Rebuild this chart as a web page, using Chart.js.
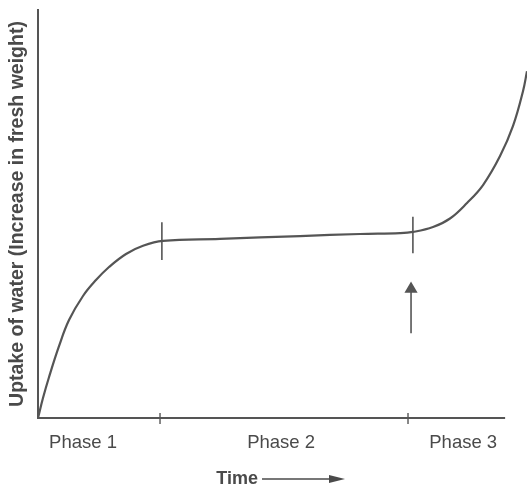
<!DOCTYPE html>
<html>
<head>
<meta charset="utf-8">
<script src="https://cdn.jsdelivr.net/npm/chart.js@4/dist/chart.umd.min.js"></script>
<style>
  body { margin: 0; background: #fff; }
  canvas { display: block; }
</style>
</head>
<body>
<canvas id="grafico" width="527" height="484"></canvas>
<script>
// curve (arbitrary units, time 0..105, uptake 0..100)
const curveTime   = [0, 1.07, 2.36, 4.51, 6.66, 9.66, 12.45, 15.25, 18.9, 22.55, 26.84, 39.08, 56.26, 69.14, 77.73, 80.52, 84.82, 88.47, 92.12, 95.56, 99.21, 102.0, 104.14, 105];
const curveUptake = [0, 4.9, 10.0, 17.6, 24.0, 29.9, 33.8, 37.0, 40.2, 42.2, 43.4, 43.9, 44.6, 45.1, 45.3, 45.6, 46.8, 48.9, 52.7, 57.1, 64.2, 71.6, 80.1, 85.0];

const axisEnd = 100.3;

const phaseLabels  = ["Phase 1", "Phase 2", "Phase 3"];
const phaseCenters = [9.66, 52.2, 91.3];
const phaseBounds  = [26.2, 79.45];

// short vertical marks on the curve
const markTimes = [26.6, 80.5];
const markLow   = [38.7, 40.4];
const markHigh  = [48, 49.3];

// arrow under the second mark
const arrowTime = 80.1;
const arrowFrom = 20.8;
const arrowTo   = 31.6;

const ink = "#4a4a4a";
const lineCol = "#555";
const fontFam = "'Liberation Sans', Arial, sans-serif";

const datasets = [{
  data: curveTime.map((t, i) => ({ x: t, y: curveUptake[i] })),
  borderColor: lineCol,
  borderWidth: 2.2,
  tension: 0.4,
  clip: false
}];

// x axis line, stops short of the right edge like the original
datasets.push({
  data: [{ x: 0, y: 0 }, { x: axisEnd, y: 0 }],
  borderColor: lineCol, borderWidth: 2, clip: false
});

markTimes.forEach((t, i) => {
  datasets.push({
    data: [{ x: t, y: markLow[i] }, { x: t, y: markHigh[i] }],
    borderColor: lineCol, borderWidth: 1.6, clip: false
  });
});

phaseBounds.forEach(t => {
  datasets.push({
    data: [{ x: t, y: -1.5 }, { x: t, y: 1.2 }],
    borderColor: lineCol, borderWidth: 1.4, clip: false
  });
});

// arrow: head is the middle point so it does not add layout padding
datasets.push({
  data: [{ x: arrowTime, y: arrowFrom }, { x: arrowTime, y: arrowTo }, { x: arrowTime, y: arrowTo }],
  borderColor: lineCol, borderWidth: 1.6,
  pointStyle: "triangle", pointRadius: [0, 6, 0],
  pointBackgroundColor: lineCol,
  clip: false
});

// "Time ---->" under the axis
const timeTitle = {
  id: "timeTitle",
  afterDraw(chart) {
    const { ctx } = chart;
    const x = chart.scales.x.getPixelForValue(48.1);
    const y = 479;
    ctx.save();
    ctx.fillStyle = ink;
    ctx.strokeStyle = ink;
    ctx.font = "bold 18px " + fontFam;
    ctx.textBaseline = "middle";
    ctx.textAlign = "right";
    ctx.fillText("Time", x - 4, y);
    ctx.lineWidth = 1.5;
    ctx.beginPath();
    ctx.moveTo(x, y);
    ctx.lineTo(x + 72, y);
    ctx.stroke();
    ctx.beginPath();
    ctx.moveTo(x + 83, y);
    ctx.lineTo(x + 67, y - 4);
    ctx.lineTo(x + 67, y + 4);
    ctx.closePath();
    ctx.fill();
    ctx.restore();
  }
};

new Chart(document.getElementById("grafico"), {
  type: "line",
  data: { datasets },
  options: {
    responsive: false,
    animation: false,
    devicePixelRatio: 1,
    elements: { point: { radius: 0, hoverRadius: 0, borderWidth: 0 } },
    layout: { padding: { top: 10, right: 0, left: 0, bottom: 0 } },
    plugins: { legend: { display: false }, tooltip: { enabled: false } },
    scales: {
      x: {
        type: "linear",
        min: 0,
        max: 105,
        afterBuildTicks: s => { s.ticks = phaseCenters.map(v => ({ value: v })); },
        afterFit: s => { s.height = 66; s.paddingLeft = 0; s.paddingRight = 0; },
        ticks: {
          autoSkip: false,
          maxRotation: 0,
          padding: 14,
          color: ink,
          font: { family: fontFam, size: 18.5 },
          callback: (v, i) => phaseLabels[i]
        },
        grid: { display: false, drawTicks: false },
        border: { display: false }
      },
      y: {
        type: "linear",
        min: 0,
        max: 100,
        afterFit: s => { s.width = 38; s.paddingTop = 0; s.paddingBottom = 0; },
        ticks: { display: false },
        grid: { display: false, drawTicks: false },
        border: { display: true, color: lineCol, width: 2 },
        title: {
          display: true,
          text: "Uptake of water (Increase in fresh weight)",
          color: ink,
          padding: { top: 6, bottom: 0 },
          font: { family: fontFam, size: 19.5, weight: "bold" }
        }
      }
    }
  },
  plugins: [timeTitle]
});
</script>
</body>
</html>
